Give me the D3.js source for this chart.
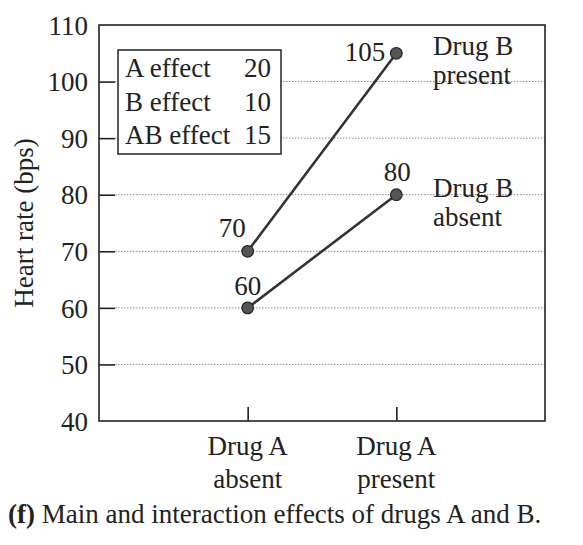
<!DOCTYPE html>
<html>
<head>
<meta charset="utf-8">
<script src="https://cdn.jsdelivr.net/npm/d3@7"></script>
<style>
  html, body { margin: 0; padding: 0; background: #fff; }
  svg { display: block; }
  text { font-family: "Liberation Serif", "Times New Roman", serif; fill: #222; }
</style>
</head>
<body>
<svg id="chart" width="583" height="545"></svg>
<script>
// ---- data ----
const categories = [["Drug A", "absent"], ["Drug A", "present"]];
const bAbsent = [60, 80];
const bPresent = [70, 105];
const seriesLabels = [["Drug B", "present"], ["Drug B", "absent"]];
const effectNames = ["A effect", "B effect", "AB effect"];
const effectValues = [20, 10, 15];
const yTicks = [40, 50, 60, 70, 80, 90, 100, 110];
const gridTicks = [50, 60, 70, 80, 90, 100];
const yTitle = "Heart rate (bps)";
const captionBold = "(f)";
const captionText = " Main and interaction effects of drugs A and B.";

// ---- layout ----
const svg = d3.select("#chart");
const L = 99, R = 545, T = 25, B = 421;
const fs = 27;
const x = d3.scaleLinear().domain([-1, 2]).range([L, R]);
const y = d3.scaleLinear().domain([40, 110]).range([B, T]);

// gridlines
svg.append("g").selectAll("line").data(gridTicks).join("line")
  .attr("x1", L + 16).attr("x2", R)
  .attr("y1", d => y(d)).attr("y2", d => y(d))
  .attr("stroke", "#888").attr("stroke-width", 1)
  .attr("stroke-dasharray", "1.5,1.5");

// frame
svg.append("rect").attr("x", L).attr("y", T).attr("width", R - L).attr("height", B - T)
  .attr("fill", "none").attr("stroke", "#222").attr("stroke-width", 1.6);

// y axis ticks (inward) and labels
const yAxis = d3.axisLeft(y).tickValues(yTicks).tickSize(-16).tickPadding(11);
const gy = svg.append("g").attr("transform", `translate(${L},0)`).call(yAxis);
gy.select(".domain").remove();
gy.selectAll(".tick line").attr("stroke", "#222").attr("stroke-width", 1.6);
gy.selectAll(".tick text").attr("font-size", fs).attr("fill", "#222")
  .attr("font-family", "Liberation Serif").attr("dy", "0.34em");
gy.selectAll(".tick").filter(d => d === 40 || d === 110).select("line").remove();

// x axis ticks (inward)
const xAxis = d3.axisBottom(x).tickValues([0, 1]).tickSize(-14).tickFormat("");
const gx = svg.append("g").attr("transform", `translate(0,${B})`).call(xAxis);
gx.select(".domain").remove();
gx.selectAll(".tick line").attr("stroke", "#222").attr("stroke-width", 1.6);

// x labels
categories.forEach((c, i) => {
  c.forEach((line, j) => {
    svg.append("text").attr("x", x(i)).attr("y", 455 + j * 33)
      .attr("text-anchor", "middle").attr("font-size", fs).text(line);
  });
});

// legend box
const lg = svg.append("g");
lg.append("rect").attr("x", 118).attr("y", 50).attr("width", 163).attr("height", 104)
  .attr("fill", "#fff").attr("stroke", "#222").attr("stroke-width", 1.5);
effectNames.forEach((n, i) => {
  lg.append("text").attr("x", 125).attr("y", 77 + i * 33.5).attr("font-size", fs).text(n);
  lg.append("text").attr("x", 271).attr("y", 77 + i * 33.5).attr("font-size", fs)
    .attr("text-anchor", "end").text(effectValues[i]);
});

// lines and points
const line = d3.line().x((d, i) => x(i)).y(d => y(d));
[bPresent, bAbsent].forEach(s => {
  svg.append("path").attr("d", line(s)).attr("fill", "none")
    .attr("stroke", "#333").attr("stroke-width", 2.6);
  svg.append("g").selectAll("circle").data(s).join("circle")
    .attr("cx", (d, i) => x(i)).attr("cy", d => y(d)).attr("r", 5.8)
    .attr("fill", "#555").attr("stroke", "#222").attr("stroke-width", 1.2);
});

// value labels
const valLabels = [
  { v: bPresent[0], i: 0, dx: -2, dy: -14, anchor: "end" },
  { v: bAbsent[0], i: 0, dx: 0, dy: -13, anchor: "middle" },
  { v: bPresent[1], i: 1, dx: -11, dy: 8, anchor: "end" },
  { v: bAbsent[1], i: 1, dx: 1, dy: -14, anchor: "middle" }
];
valLabels.forEach(l => {
  svg.append("text").attr("x", x(l.i) + l.dx).attr("y", y(l.v) + l.dy)
    .attr("text-anchor", l.anchor).attr("font-size", fs).text(l.v);
});

// series labels
const seriesEnds = [bPresent[1], bAbsent[1]];
seriesLabels.forEach((lab, k) => {
  lab.forEach((t, j) => {
    svg.append("text").attr("x", 433).attr("y", y(seriesEnds[k]) + 2 + j * 29)
      .attr("font-size", fs).text(t);
  });
});

// y title
svg.append("text").attr("transform", `translate(33,${(T + B) / 2}) rotate(-90)`)
  .attr("text-anchor", "middle").attr("font-size", fs).text(yTitle);

// caption
const cap = svg.append("text").attr("x", 8).attr("y", 523).attr("font-size", fs);
cap.append("tspan").attr("font-weight", "bold").text(captionBold);
cap.append("tspan").text(captionText);
</script>
</body>
</html>
